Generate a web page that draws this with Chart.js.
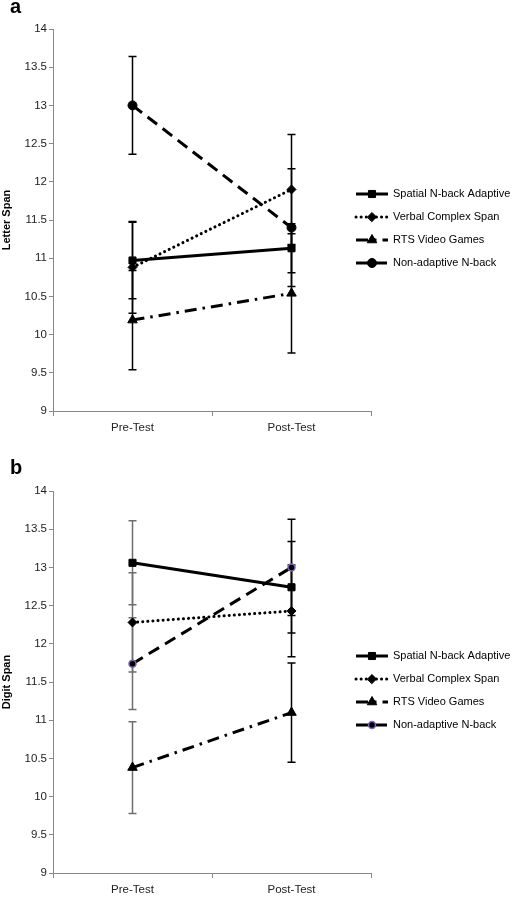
<!DOCTYPE html>
<html>
<head>
<meta charset="utf-8">
<script src="https://cdn.jsdelivr.net/npm/chart.js@4/dist/chart.umd.min.js"></script>
<style>
  body { margin: 0; background: #fff; width: 517px; height: 897px; position: relative; overflow: hidden; }
  canvas { position: absolute; left: 0; }
  .tag { position: absolute; left: 10px; font: bold 20px "Liberation Sans", Arial, sans-serif; color: #000; }
</style>
</head>
<body>
<canvas id="chartA" width="517" height="462" style="top:0"></canvas>
<canvas id="chartB" width="517" height="435" style="top:462px"></canvas>
<div class="tag" style="top:-5px">a</div>
<div class="tag" style="top:456px">b</div>
<script>
Chart.defaults.font.family = '"Liberation Sans", Arial, sans-serif';
Chart.defaults.font.size = 11.5;
Chart.defaults.color = "#222";

const phases = ["Pre-Test", "Post-Test"];
const groups = ["Spatial N-back Adaptive", "Verbal Complex Span", "RTS Video Games", "Non-adaptive N-back"];

// panel a: letter span (means, error half-widths)
const letterSpatial = [10.97, 11.13];
const letterVerbal = [10.88, 11.9];
const letterRts = [10.19, 10.54];
const letterNonAdaptive = [13.0, 11.4];
const letterSpatialErr = [0.5, 0.32];
const letterVerbalErr = [0.6, 0.72];
const letterRtsErr = [0.65, 0.78];
const letterNonAdaptiveErr = [0.64, 0.77];

// panel b: digit span
const digitSpatial = [13.06, 12.74];
const digitVerbal = [12.28, 12.43];
const digitRts = [10.38, 11.1];
const digitNonAdaptive = [11.74, 13.0];
const digitSpatialErr = [0.55, 0.6];
const digitVerbalErr = [0.65, 0.6];
const digitRtsErr = [0.6, 0.65];
const digitNonAdaptiveErr = [0.6, 0.63];

const yTicks = [9, 9.5, 10, 10.5, 11, 11.5, 12, 12.5, 13, 13.5, 14];

const lineStyles = [
  { borderDash: [], borderCapStyle: "butt", pointStyle: "rect", pointRadius: 5 },
  { borderDash: [0.1, 5], borderCapStyle: "round", pointStyle: "rectRot", pointRadius: 4.5 },
  { borderDash: [12, 6, 2.5, 6], borderCapStyle: "butt", pointStyle: "triangle", pointRadius: 5.5 },
  { borderDash: [12, 7], borderCapStyle: "butt", pointStyle: "circle", pointRadius: 4.5 },
];

const errorBars = {
  id: "errorBars",
  beforeDatasetsDraw(chart, args, opts) {
    const { ctx } = chart;
    const x = chart.scales.x;
    const y = chart.scales.y;
    ctx.save();
    ctx.lineWidth = 1.5;
    chart.data.datasets.forEach((ds) => {
      ds.data.forEach((v, i) => {
        const e = ds.errors[i];
        const px = x.getPixelForValue(i);
        const top = y.getPixelForValue(v + e);
        const bot = y.getPixelForValue(v - e);
        ctx.strokeStyle = opts.colors[i];
        ctx.beginPath();
        ctx.moveTo(px, top);
        ctx.lineTo(px, bot);
        ctx.moveTo(px - 4, top);
        ctx.lineTo(px + 4, top);
        ctx.moveTo(px - 4, bot);
        ctx.lineTo(px + 4, bot);
        ctx.stroke();
      });
    });
    ctx.restore();
  },
};

const sideLegend = {
  id: "sideLegend",
  afterDraw(chart) {
    const { ctx } = chart;
    ctx.save();
    chart.data.datasets.forEach((ds, i) => {
      const y = 194 + i * 23;
      ctx.strokeStyle = "#000";
      ctx.lineWidth = 3;
      ctx.lineCap = ds.borderCapStyle;
      ctx.setLineDash(ds.borderDash);
      ctx.beginPath();
      ctx.moveTo(356, y);
      ctx.lineTo(388, y);
      ctx.stroke();
      ctx.setLineDash([]);
      ctx.fillStyle = ds.pointBackgroundColor;
      ctx.strokeStyle = ds.pointBorderColor;
      ctx.lineWidth = ds.pointBorderWidth;
      Chart.helpers.drawPoint(ctx, {
        pointStyle: ds.pointStyle,
        radius: ds.pointRadius,
        rotation: 0,
        borderWidth: ds.pointBorderWidth,
      }, 372, y);
      ctx.fillStyle = "#000";
      ctx.font = '11px "Liberation Sans", Arial, sans-serif';
      ctx.textBaseline = "middle";
      ctx.fillText(ds.label, 393, y);
    });
    ctx.restore();
  },
};

function makeChart(id, height, yTitle, series, errs, errColors, markerOverride) {
  const datasets = series.map((data, i) => {
    const st = lineStyles[i];
    const ds = {
      label: groups[i],
      data,
      errors: errs[i],
      borderColor: "#000",
      borderWidth: 3,
      borderDash: st.borderDash,
      borderCapStyle: st.borderCapStyle,
      pointStyle: st.pointStyle,
      pointRadius: st.pointRadius,
      pointBackgroundColor: "#000",
      pointBorderColor: "#000",
      pointBorderWidth: 1,
      tension: 0,
    };
    if (markerOverride && markerOverride[i]) Object.assign(ds, markerOverride[i]);
    return ds;
  });

  return new Chart(document.getElementById(id), {
    type: "line",
    data: { labels: phases, datasets },
    options: {
      responsive: false,
      animation: false,
      layout: { padding: { top: 29, right: 146, left: 0, bottom: 0 } },
      plugins: {
        legend: { display: false },
        tooltip: { enabled: false },
        errorBars: { colors: errColors },
      },
      scales: {
        x: {
          offset: true,
          afterFit: (s) => { s.height = height - 411; },
          grid: { offset: true, drawOnChartArea: false, color: "#888", tickLength: 5 },
          border: { color: "#888" },
          ticks: { padding: 5, color: "#222" },
        },
        y: {
          min: 9,
          max: 14,
          afterFit: (s) => { s.width = 53; },
          afterBuildTicks: (s) => { s.ticks = yTicks.map((v) => ({ value: v })); },
          grid: { drawOnChartArea: false, color: "#888", tickLength: 4 },
          border: { color: "#888" },
          ticks: { padding: 2, color: "#222", callback: (v) => String(v) },
          title: { display: true, text: yTitle, color: "#000", font: { weight: "bold", size: 11 }, padding: 0 },
        },
      },
    },
    plugins: [errorBars, sideLegend],
  });
}

makeChart(
  "chartA", 462, "Letter Span",
  [letterSpatial, letterVerbal, letterRts, letterNonAdaptive],
  [letterSpatialErr, letterVerbalErr, letterRtsErr, letterNonAdaptiveErr],
  ["#000", "#000"]
);

makeChart(
  "chartB", 435, "Digit Span",
  [digitSpatial, digitVerbal, digitRts, digitNonAdaptive],
  [digitSpatialErr, digitVerbalErr, digitRtsErr, digitNonAdaptiveErr],
  ["#6e6e6e", "#000"],
  { 3: { pointRadius: 3.5, pointBorderColor: "#7b64b4", pointBorderWidth: 1.5 } }
);
</script>
</body>
</html>
